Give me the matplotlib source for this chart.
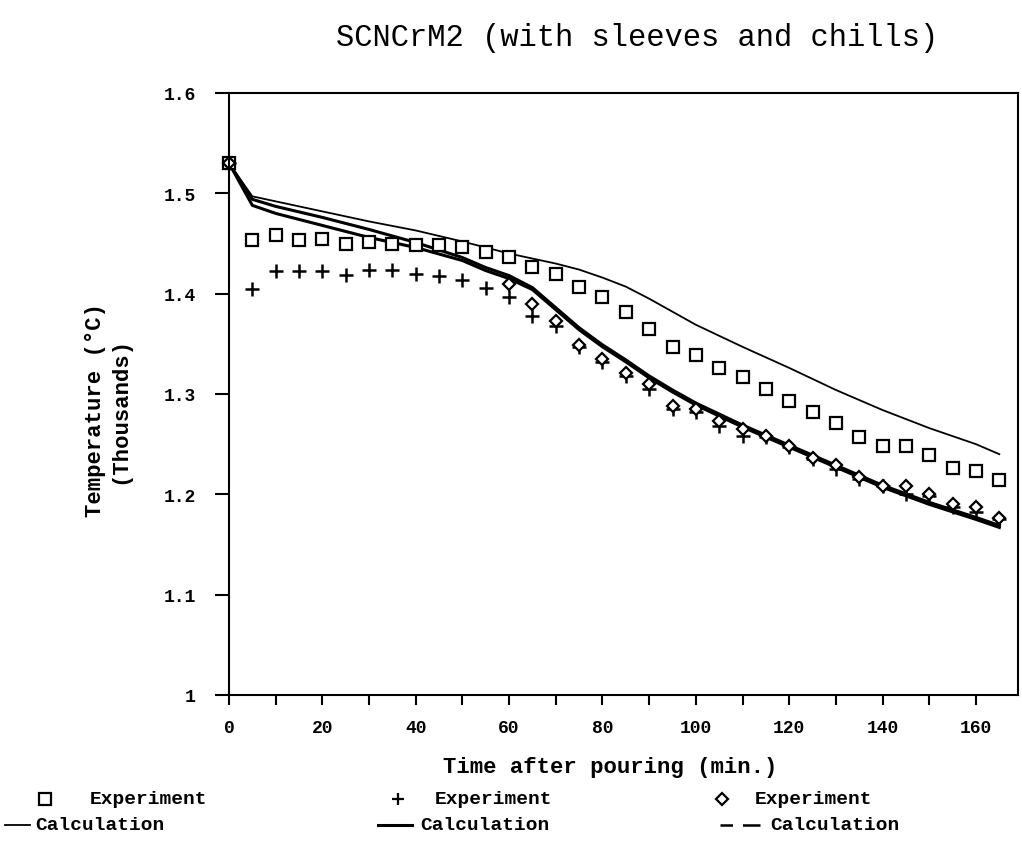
import matplotlib.pyplot as plt
from matplotlib.ticker import MultipleLocator
from matplotlib.lines import Line2D
import numpy as np

# time after pouring (min)
t_exp = np.arange(0, 170, 5)

# experiment, open squares (deg C)
exp_sq = [1530, 1453, 1458, 1453, 1454, 1450, 1451, 1450, 1449, 1449, 1447, 1442,
          1437, 1427, 1420, 1407, 1397, 1382, 1365, 1347, 1339, 1326, 1317, 1305,
          1293, 1282, 1271, 1257, 1248, 1248, 1239, 1226, 1223, 1214]
# experiment, plus
exp_plus = [1530, 1405, 1423, 1423, 1423, 1419, 1424, 1424, 1420, 1418, 1414, 1406,
            1397, 1378, 1368, 1347, 1332, 1318, 1305, 1285, 1282, 1268, 1258, 1257,
            1247, 1235, 1225, 1215, 1208, 1200, 1198, 1187, 1182, 1175]
# experiment, diamonds (only visible from 60 min on)
t_dia = [0, 60, 65, 70, 75, 80, 85, 90, 95, 100, 105, 110, 115, 120, 125, 130,
         135, 140, 145, 150, 155, 160, 165]
exp_dia = [1530, 1410, 1390, 1373, 1349, 1335, 1321, 1310, 1288, 1285, 1273, 1265,
           1258, 1248, 1236, 1229, 1217, 1208, 1208, 1200, 1190, 1187, 1176]

# calculations
t_calc1 = [0, 5, 10, 20, 30, 40, 50, 60, 70, 75, 80, 85, 90, 95, 100, 110, 120,
           130, 140, 150, 160, 165]
calc1 = [1530, 1497, 1492, 1482, 1472, 1463, 1452, 1440, 1430, 1424, 1416, 1407,
         1395, 1382, 1369, 1347, 1326, 1304, 1284, 1266, 1250, 1240]

t_calc = [0, 5, 10, 20, 30, 40, 50, 55, 60, 65, 70, 75, 80, 85, 90, 95, 100, 110,
          120, 130, 140, 150, 160, 165]
calc2 = [1530, 1494, 1487, 1476, 1464, 1451, 1436, 1426, 1418, 1406, 1386, 1366,
         1349, 1334, 1318, 1304, 1291, 1269, 1249, 1229, 1209, 1192, 1177, 1169]
calc3 = [1530, 1488, 1480, 1468, 1456, 1446, 1433, 1423, 1415, 1404, 1384, 1364,
         1347, 1332, 1316, 1302, 1289, 1267, 1247, 1227, 1207, 1190, 1175, 1167]

mono = "Liberation Mono"
W, H = 1022, 845

fig = plt.figure(figsize=(10.22, 8.45), dpi=100)
ax = fig.add_axes([229 / W, 149 / H, 789 / W, 602 / H])

k = lambda v: np.array(v) / 1000.0

ax.plot(t_calc1, k(calc1), color="black", lw=1.3)
ax.plot(t_calc, k(calc2), color="black", lw=2.2)
ax.plot(t_calc, k(calc3), color="black", lw=2.2)

ax.plot(t_exp, k(exp_sq), ls="none", marker="s", ms=9, mfc="white", mec="black",
        mew=1.6, clip_on=False)
ax.plot(t_exp, k(exp_plus), ls="none", marker="+", ms=10, mec="black", mew=1.8,
        clip_on=False)
ax.plot(t_dia, k(exp_dia), ls="none", marker="D", ms=6, mfc="white", mec="black",
        mew=1.6, clip_on=False)

ax.set_xlim(0, 169)
ax.set_ylim(1.0, 1.6)
ax.xaxis.set_major_locator(MultipleLocator(20))
ax.xaxis.set_minor_locator(MultipleLocator(10))
ax.set_yticks([1.0, 1.1, 1.2, 1.3, 1.4, 1.5, 1.6])
ax.set_yticklabels(["1", "1.1", "1.2", "1.3", "1.4", "1.5", "1.6"])
ax.tick_params(which="both", direction="out", length=7, width=1.5)
ax.tick_params(axis="y", length=10)
for lab in ax.get_xticklabels() + ax.get_yticklabels():
    lab.set_fontfamily(mono)
    lab.set_fontweight("bold")
    lab.set_fontsize(13)
ax.tick_params(axis="x", pad=10)
ax.tick_params(axis="y", pad=14)
for s in ax.spines.values():
    s.set_linewidth(1.5)

fig.text(637 / W, 1 - 38 / H, "SCNCrM2 (with sleeves and chills)",
         family=mono, fontsize=22, ha="center", va="center")
fig.text(610 / W, 1 - 768 / H, "Time after pouring (min.)",
         family=mono, fontweight="bold", fontsize=16, ha="center", va="center")
fig.text(95 / W, 1 - 410 / H, "Temperature (°C)", family=mono,
         fontweight="bold", fontsize=16, rotation=90, ha="center", va="center")
fig.text(120 / W, 1 - 410 / H, "(Thousands)", family=mono,
         fontweight="bold", fontsize=16, rotation=90, ha="center", va="center")

# legend laid out by hand, like the original printout
leg_font = dict(family=mono, fontweight="bold", fontsize=14, va="center")
y1, y2 = 1 - 800 / H, 1 - 826 / H
markers = [("s", 45, 90), ("+", 398, 435), ("D", 722, 755)]
for m, xm, xt in markers:
    fig.add_artist(Line2D([xm / W], [y1], marker=m, ms=8 if m != "D" else 6,
                          mfc="white", mec="black", mew=1.6, ls="none"))
    fig.text(xt / W, y1, "Experiment", **leg_font)
calc_keys = [((5, 30), "-", 1.3, 35), ((378, 412), "-", 2.2, 420),
             ((720, 760), (0, (5, 4, 14, 0)), 1.8, 770)]
for (xa, xb), ls, lw, xt in calc_keys:
    fig.add_artist(Line2D([xa / W, xb / W], [y2, y2], color="black", lw=lw, ls=ls))
    fig.text(xt / W, y2, "Calculation", **leg_font)

fig.savefig("out.png", dpi=100, facecolor="white")
